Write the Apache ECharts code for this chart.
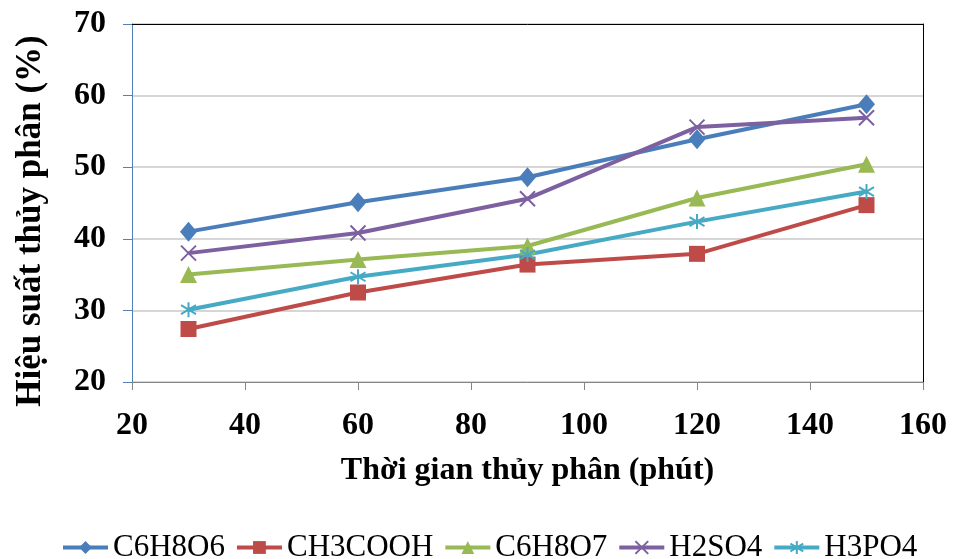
<!DOCTYPE html>
<html>
<head>
    <meta charset="utf-8">
    <script src="https://cdn.jsdelivr.net/npm/echarts@6/dist/echarts.min.js"></script>
    <style>
        html, body { margin: 0; padding: 0; background: #fff; }
    </style>
</head>
<body>
<div id="chart" style="width: 954px; height: 559px;"></div>
<script type="text/javascript">
    // Data
    var times = [30, 60, 90, 120, 150];
    var c6h8o6 = [41.0, 45.1, 48.6, 53.9, 58.8];
    var ch3cooh = [27.4, 32.5, 36.4, 37.9, 44.7];
    var c6h8o7 = [35.0, 37.1, 39.0, 45.7, 50.4];
    var h2so4 = [38.0, 40.8, 45.6, 55.6, 56.9];
    var h3po4 = [30.1, 34.7, 37.8, 42.4, 46.6];

    var font = 'Liberation Serif';
    var crossPath = 'path://M0,0L10,10M10,0L0,10';
    var starPath = 'path://M5,0L5,10M0,2L10,8M0,8L10,2';

    function pairs(ys) {
        return times.map((t, i) => [t, ys[i]]);
    }

    function makeSeries(name, ys, color, symbol, size, stroke) {
        return {
            name: name,
            type: 'line',
            data: pairs(ys),
            symbol: symbol,
            symbolSize: size,
            lineStyle: { color: color, width: 4 },
            itemStyle: { color: color, borderColor: color, borderWidth: stroke },
            z: 3
        };
    }

    var chart = echarts.init(document.getElementById('chart'));
    var option = {
        animation: false,
        grid: { left: 132, top: 24, right: 31, bottom: 177 },
        legend: {
            top: 527,
            left: 56,
            itemWidth: 45,
            itemHeight: 16,
            itemGap: 10,
            lineStyle: { width: 4 },
            textStyle: { fontFamily: font, fontSize: 31, color: '#000' }
        },
        xAxis: [{
            type: 'value',
            min: 20, max: 160, interval: 20,
            name: 'Thời gian thủy phân (phút)',
            nameLocation: 'middle',
            nameGap: 73,
            nameTextStyle: { fontFamily: font, fontSize: 32, fontWeight: 'bold', color: '#000' },
            axisLine: { lineStyle: { color: '#868686', width: 1 } },
            axisTick: { show: true, length: 8, lineStyle: { color: '#868686' } },
            axisLabel: { fontFamily: font, fontSize: 32, fontWeight: 'bold', color: '#000', margin: 28 },
            splitLine: { show: false }
        }, {
            type: 'value',
            position: 'top',
            min: 20, max: 160,
            axisLine: { show: true, lineStyle: { color: '#000', width: 1 } },
            axisTick: { show: false },
            axisLabel: { show: false },
            splitLine: { show: false }
        }],
        yAxis: [{
            type: 'value',
            min: 20, max: 70, interval: 10,
            name: 'Hiệu suất thủy phân (%)',
            nameLocation: 'middle',
            nameRotate: 90,
            nameGap: 84,
            nameTextStyle: { fontFamily: font, fontSize: 35, fontWeight: 'bold', color: '#000', padding: [0, 36, 0, 0] },
            axisLine: { show: true, lineStyle: { color: '#4F81BD', width: 1 } },
            axisTick: { show: true, length: 9, lineStyle: { color: '#4F81BD' } },
            axisLabel: { fontFamily: font, fontSize: 32, fontWeight: 'bold', color: '#000', margin: 26 },
            splitLine: { show: true, lineStyle: { color: '#c8c8c8', width: 1.5 } }
        }, {
            type: 'value',
            position: 'right',
            min: 20, max: 70,
            axisLine: { show: true, lineStyle: { color: '#000', width: 1 } },
            axisTick: { show: false },
            axisLabel: { show: false },
            splitLine: { show: false }
        }],
        series: [
            makeSeries('C6H8O6', c6h8o6, '#4A7EBB', 'diamond', [17, 20], 0),
            makeSeries('CH3COOH', ch3cooh, '#BE4B48', 'rect', 16, 0),
            makeSeries('C6H8O7', c6h8o7, '#98B954', 'triangle', 17, 0),
            makeSeries('H2SO4', h2so4, '#7D60A0', crossPath, 15, 2),
            makeSeries('H3PO4', h3po4, '#46AAC5', starPath, 15, 2)
        ]
    };
    chart.setOption(option);
</script>
</body>
</html>
